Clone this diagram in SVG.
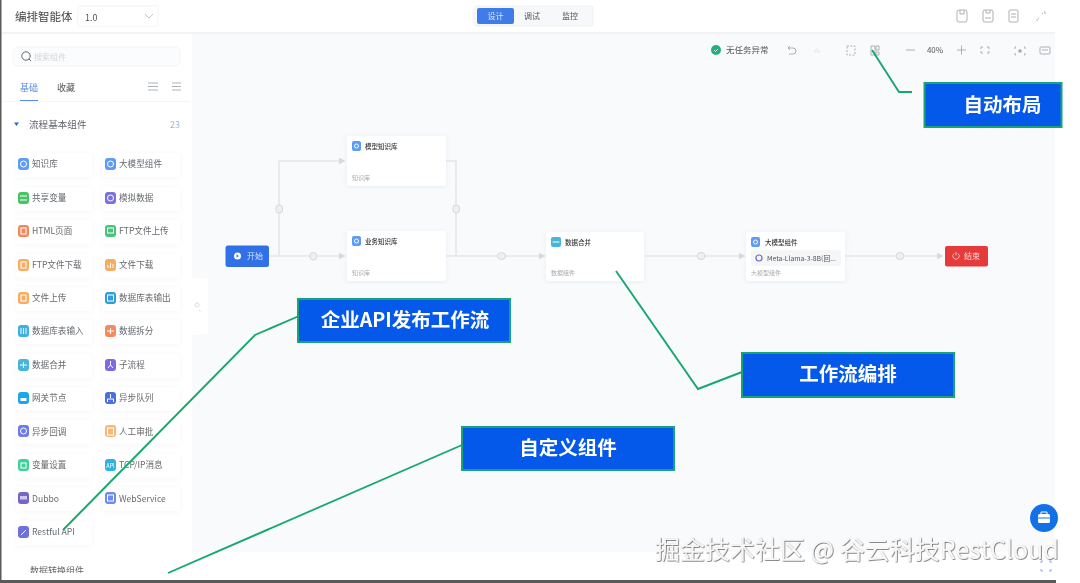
<svg xmlns="http://www.w3.org/2000/svg" width="1080" height="583" viewBox="0 0 1080 583">
<style>
text{font-family:"Noto Sans CJK SC","Noto Sans",sans-serif}
.soft{filter:url(#soft)}
.card{fill:#fff;filter:url(#shadow)}
.item{fill:#fff;filter:url(#shadowS)}
.lbl{font-size:8.600px;fill:#666a6e}
.ic{stroke:#fff;stroke-width:1;fill:none}
.ttl{font-size:6.500px;fill:#333;font-weight:500}
.sub{font-size:6px;fill:#aaa}
.nic{fill:#5c9cf5}
.conn{fill:none;stroke:#e4e7eb;stroke-width:1.600}
.hdl{fill:#eef0f2;stroke:#d4d7db;stroke-width:1}
.tool{fill:none;stroke:#a4a9af;stroke-width:.9}
.toolf{fill:none;stroke:#e6e8ea;stroke-width:.9}
.call{fill:#0458ea;stroke:#17a578;stroke-width:2}
.ctext{font-size:19.500px;font-weight:700;fill:#fff;text-anchor:middle}
.lead{fill:none;stroke:#17a86f;stroke-width:1.900}
</style>
<defs>
<filter id="soft" x="-5%" y="-5%" width="110%" height="110%"><feGaussianBlur stdDeviation="0.45"/></filter>
<filter id="shadow" x="-15%" y="-20%" width="130%" height="140%"><feDropShadow dx="0" dy="1" stdDeviation="2.500" flood-color="#8a94a6" flood-opacity=".13"/></filter>
<filter id="shadowS" x="-15%" y="-30%" width="130%" height="160%"><feDropShadow dx="0" dy="1" stdDeviation="2" flood-color="#8a94a6" flood-opacity=".07"/></filter>
<filter id="wm" x="-5%" y="-20%" width="110%" height="140%"><feDropShadow dx="0.600" dy="0.600" stdDeviation="0.500" flood-color="#333" flood-opacity=".95"/></filter>
<marker id="arr" markerWidth="7" markerHeight="7" refX="6" refY="3.500" orient="auto" markerUnits="userSpaceOnUse"><path d="M0 0L6 3.500L0 7Z" fill="#d6d9dd"/></marker>
<clipPath id="bottomClip"><rect x="0" y="560" width="200" height="13"/></clipPath>
</defs>

<rect width="1080" height="583" fill="#fff"/>
<rect x="192" y="34" width="863" height="518" fill="#f8fafc"/>
<rect x="0" y="580" width="1056" height="3" fill="#5a5a5a"/>
<rect x="0" y="0" width="1.500" height="583" fill="#5a5a5a"/>

<g id="header" class="soft">
<rect x="2" y="32" width="1053" height="2" fill="#f1f3f5"/>
<text x="15" y="21" font-size="11.500" fill="#444">编排智能体</text>
<rect x="78" y="6" width="80" height="20" fill="#fff" stroke="#f3f4f6"/>
<text x="85" y="21" font-size="9" fill="#555">1.0</text>
<path d="M145 14L149 18L153 14" fill="none" stroke="#c4c7cc"/>
<rect x="474" y="6" width="119" height="20" rx="2" fill="#f7f8fa" stroke="#eff1f3"/>
<rect x="477" y="8" width="37" height="16" rx="2" fill="#3f7be8"/>
<text x="495.500" y="19" font-size="8" fill="#dbe7ff" text-anchor="middle">设计</text>
<text x="532" y="19" font-size="8" fill="#555" text-anchor="middle">调试</text>
<text x="570" y="19" font-size="8" fill="#555" text-anchor="middle">监控</text>
<g class="tool">
<rect x="957" y="10" width="10" height="12" rx="2"/><path d="M960 10v4h4v-4"/>
<rect x="983" y="10" width="10" height="12" rx="2"/><path d="M985 18h6M986 10v3h4v-3"/>
<rect x="1009" y="10" width="9" height="12" rx="1"/><path d="M1011 14h5M1011 17h5"/>
<path d="M1037 19v2M1038 19l1-1M1042 14l1-1M1044 12h1v2"/>
</g>
</g>

<g id="toolbar" class="soft">
<circle cx="716" cy="50" r="5" fill="#25ad7d"/><path d="M714 50l1.500 1.500L718 49" fill="none" stroke="#fff" stroke-width=".8"/>
<text x="726" y="53" font-size="8.500" fill="#555">无任务异常</text>
<path class="tool" d="M788 48h5a3 3 0 0 1 0 6h-4M790 46l-2 2l2 2"/>
<path class="toolf" d="M814 52h6M815 52a2 3 0 0 1 4 0"/>
<rect class="tool" x="847" y="46" width="8" height="9" stroke-dasharray="2 1.500"/>
<path class="tool" d="M871 46h4v9h-4zM876 46h3v4h-3zM876 52h3v3h-3z"/>
<path class="tool" d="M906 50h9M957 50h9M961.500 45.500v9"/>
<text x="935" y="53" font-size="8" fill="#555" text-anchor="middle">40%</text>
<path class="tool" d="M982 46v2h-2M988 46v2h2M982 54v-2h-2M988 54v-2h2"/>
<path class="tool" d="M1016 47h-1v2M1024 47h1v2M1016 55h-1v-2M1024 55h1v-2"/><circle cx="1020" cy="51" r="1.800" fill="#a4a9af"/>
<rect class="tool" x="1040" y="47" width="10" height="7" rx="1"/><path class="tool" d="M1042 50h6"/>
</g>

<g id="sidebar" class="soft">
<rect x="13" y="47" width="167" height="19" rx="5" fill="#fbfcfd" stroke="#f3f4f6"/>
<circle cx="26" cy="56" r="4.200" fill="none" stroke="#666"/><path d="M29 59l2 2" stroke="#666"/>
<text x="34" y="60" font-size="8" fill="#d3d6da">搜索组件</text>
<text x="20" y="91" font-size="9" fill="#5a8be6">基础</text>
<text x="57" y="91" font-size="9" fill="#555">收藏</text>
<rect x="20" y="100" width="18" height="1.200" fill="#5a8be6"/>
<path class="tool" d="M148 83h10M148 86.500h10M148 90h10M172 83h9M172 86.500h9M172 90h9"/>
<rect x="2" y="101" width="188" height="1" fill="#f5f6f8"/>
<path d="M14 122.500h5l-2.500 3.500z" fill="#1f6fd1"/>
<text x="29" y="128" font-size="9.600" fill="#5f6368">流程基本组件</text>
<text x="170" y="128" font-size="9" fill="#9db4e8">23</text>
<g clip-path="url(#bottomClip)"><text x="30" y="574" font-size="9" fill="#666">数据转换组件</text></g>
<rect x="190" y="278" width="18" height="57" rx="3" fill="#fff"/>
<path d="M197 307a2 2 0 1 1 .1 0M199 310l1.500 1.500" fill="none" stroke="#d8dbdf"/>
</g>

<g id="components" class="soft">
<g id="c1"><rect class="item" x="16" y="153" width="76" height="24" rx="2"/><rect x="18" y="158" width="11" height="12" rx="3" fill="#5c9cf5"/><circle class="ic" cx="23.500" cy="164" r="3"/><text class="lbl" x="32" y="167">知识库</text></g>
<g id="c2"><rect class="item" x="103" y="153" width="77" height="24" rx="2"/><rect x="105" y="158" width="11" height="12" rx="3" fill="#5c9cf5"/><circle class="ic" cx="110.500" cy="164" r="3"/><text class="lbl" x="119" y="167">大模型组件</text></g>
<g id="c3"><rect class="item" x="16" y="187" width="76" height="24" rx="2"/><rect x="18" y="192" width="11" height="12" rx="3" fill="#46c463"/><path class="ic" d="M20 196h7M20 200h7"/><text class="lbl" x="32" y="201">共享变量</text></g>
<g id="c4"><rect class="item" x="103" y="187" width="77" height="24" rx="2"/><rect x="105" y="192" width="11" height="12" rx="3" fill="#7a72de"/><circle class="ic" cx="110.500" cy="198" r="3"/><text class="lbl" x="119" y="201">模拟数据</text></g>
<g id="c5"><rect class="item" x="16" y="220" width="76" height="24" rx="2"/><rect x="18" y="225" width="11" height="12" rx="3" fill="#ef8a5f"/><rect class="ic" x="21" y="228" width="5" height="6"/><text class="lbl" x="32" y="234">HTML页面</text></g>
<g id="c6"><rect class="item" x="103" y="220" width="77" height="24" rx="2"/><rect x="105" y="225" width="11" height="12" rx="3" fill="#46c47a"/><rect class="ic" x="107.500" y="228" width="6" height="5"/><text class="lbl" x="119" y="234">FTP文件上传</text></g>
<g id="c7"><rect class="item" x="16" y="254" width="76" height="24" rx="2"/><rect x="18" y="259" width="11" height="12" rx="3" fill="#f5ad62"/><rect class="ic" x="21" y="262" width="5" height="6"/><text class="lbl" x="32" y="268">FTP文件下载</text></g>
<g id="c8"><rect class="item" x="103" y="254" width="77" height="24" rx="2"/><rect x="105" y="259" width="11" height="12" rx="3" fill="#f5ad62"/><path class="ic" d="M108 268v-3M110.500 268v-5M113 268v-4"/><text class="lbl" x="119" y="268">文件下载</text></g>
<g id="c9"><rect class="item" x="16" y="287" width="76" height="24" rx="2"/><rect x="18" y="292" width="11" height="12" rx="3" fill="#f5ad62"/><rect class="ic" x="21" y="295" width="5" height="6"/><text class="lbl" x="32" y="301">文件上传</text></g>
<g id="c10"><rect class="item" x="103" y="287" width="77" height="24" rx="2"/><rect x="105" y="292" width="11" height="12" rx="3" fill="#2f9fd8"/><rect class="ic" x="107.500" y="295" width="6" height="6"/><text class="lbl" x="119" y="301">数据库表输出</text></g>
<g id="c11"><rect class="item" x="16" y="320" width="76" height="24" rx="2"/><rect x="18" y="325" width="11" height="12" rx="3" fill="#3fb0dc"/><path class="ic" d="M21 328v6M23.500 328v6M26 328v6"/><text class="lbl" x="32" y="334">数据库表输入</text></g>
<g id="c12"><rect class="item" x="103" y="320" width="77" height="24" rx="2"/><rect x="105" y="325" width="11" height="12" rx="3" fill="#f58a5f"/><path class="ic" d="M107 331h7M110.500 328v6"/><text class="lbl" x="119" y="334">数据拆分</text></g>
<g id="c13"><rect class="item" x="16" y="354" width="76" height="24" rx="2"/><rect x="18" y="359" width="11" height="12" rx="3" fill="#45b5d8"/><path class="ic" d="M20 365h7M23.500 362v6"/><text class="lbl" x="32" y="368">数据合并</text></g>
<g id="c14"><rect class="item" x="103" y="354" width="77" height="24" rx="2"/><rect x="105" y="359" width="11" height="12" rx="3" fill="#7d6be0"/><path class="ic" d="M110.500 361v4M108 368l2.500-3l2.500 3"/><text class="lbl" x="119" y="368">子流程</text></g>
<g id="c15"><rect class="item" x="16" y="387" width="76" height="24" rx="2"/><rect x="18" y="392" width="11" height="12" rx="3" fill="#1fa6ec"/><rect x="20.500" y="398" width="6" height="3" fill="#fff"/><text class="lbl" x="32" y="401">网关节点</text></g>
<g id="c16"><rect class="item" x="103" y="387" width="77" height="24" rx="2"/><rect x="105" y="392" width="11" height="12" rx="3" fill="#4a6fe0"/><path class="ic" d="M110.500 394v4M107.500 402v-3h6v3"/><text class="lbl" x="119" y="401">异步队列</text></g>
<g id="c17"><rect class="item" x="16" y="420" width="76" height="24" rx="2"/><rect x="18" y="425" width="11" height="12" rx="3" fill="#6d7be6"/><circle class="ic" cx="23.500" cy="431" r="3"/><text class="lbl" x="32" y="435">异步回调</text></g>
<g id="c18"><rect class="item" x="103" y="420" width="77" height="24" rx="2"/><rect x="105" y="425" width="11" height="12" rx="3" fill="#f5b87a"/><rect class="ic" x="107.500" y="428" width="6" height="7"/><text class="lbl" x="119" y="435">人工审批</text></g>
<g id="c19"><rect class="item" x="16" y="454" width="76" height="24" rx="2"/><rect x="18" y="459" width="11" height="12" rx="3" fill="#3fd09a"/><rect class="ic" x="21" y="463" width="5" height="5"/><text class="lbl" x="32" y="468">变量设置</text></g>
<g id="c20"><rect class="item" x="103" y="454" width="77" height="24" rx="2"/><rect x="105" y="459" width="11" height="12" rx="3" fill="#2fb1e0"/><text x="110.500" y="468" font-size="5.500" fill="#fff" text-anchor="middle">API</text><text class="lbl" x="119" y="468">TCP/IP消息</text></g>
<g id="c21"><rect class="item" x="16" y="487" width="76" height="24" rx="2"/><rect x="18" y="492" width="11" height="12" rx="3" fill="#7765c9"/><rect x="20" y="496" width="7" height="3.500" fill="#cfc8f0"/><text class="lbl" x="32" y="502">Dubbo</text></g>
<g id="c22"><rect class="item" x="103" y="487" width="77" height="24" rx="2"/><rect x="105" y="492" width="11" height="12" rx="3" fill="#6d8cf0"/><rect class="ic" x="107.500" y="495" width="6" height="6"/><text class="lbl" x="119" y="502">WebService</text></g>
<g id="c23"><rect class="item" x="16" y="521" width="76" height="24" rx="2"/><rect x="18" y="526" width="11" height="12" rx="3" fill="#6e6fdc"/><path class="ic" d="M21 535l5-5"/><text class="lbl" x="32" y="535">Restful API</text></g>
</g>

<g id="connectors" class="soft">
<path class="conn" d="M269 256H345" marker-end="url(#arr)"/>
<path class="conn" d="M279 256V161H345" marker-end="url(#arr)"/>
<path class="conn" d="M446 161H456V256"/>
<path class="conn" d="M446 256H545" marker-end="url(#arr)"/>
<path class="conn" d="M645 256H745" marker-end="url(#arr)"/>
<path class="conn" d="M845 256H943" marker-end="url(#arr)"/>
<rect class="hdl" x="276" y="205" width="6.500" height="8" rx="3"/>
<rect class="hdl" x="310" y="252.500" width="6.500" height="7.500" rx="3"/>
<rect class="hdl" x="453" y="205" width="6.500" height="8" rx="3"/>
<ellipse class="hdl" cx="501.500" cy="256" rx="4" ry="3.500"/>
<ellipse class="hdl" cx="701" cy="256" rx="4" ry="3.500"/>
<ellipse class="hdl" cx="900" cy="256" rx="4" ry="3.500"/>
</g>

<g id="node-start" class="soft"><rect x="225.500" y="245.500" width="43.500" height="21.500" rx="2.500" fill="#3370e8"/><circle cx="237.500" cy="256" r="3.500" fill="#fff"/><path d="M236.500 254.500l2.500 1.500l-2.500 1.500z" fill="#3370e8"/><text x="247" y="259" font-size="8" fill="#cfe0ff">开始</text></g>
<g id="node-kb1" class="soft"><rect class="card" x="347" y="136" width="99" height="50" rx="2"/><rect class="nic" x="352" y="141" width="9" height="10" rx="2"/><circle class="ic" cx="356.500" cy="146" r="2" stroke-width=".7"/><text class="ttl" x="365" y="149">模型知识库</text><text class="sub" x="352" y="180">知识库</text></g>
<g id="node-kb2" class="soft"><rect class="card" x="347" y="231" width="99" height="50" rx="2"/><rect class="nic" x="352" y="236" width="9" height="10" rx="2"/><circle class="ic" cx="356.500" cy="241" r="2" stroke-width=".7"/><text class="ttl" x="365" y="244">业务知识库</text><text class="sub" x="352" y="275">知识库</text></g>
<g id="node-merge" class="soft"><rect class="card" x="546" y="232" width="98" height="49" rx="2"/><rect x="551" y="237" width="10" height="10" rx="2" fill="#45b5d8"/><path class="ic" d="M552.500 242h7" stroke-width=".7"/><text class="ttl" x="565" y="244.500">数据合并</text><text class="sub" x="551" y="275">数据组件</text></g>
<g id="node-llm" class="soft"><rect class="card" x="746" y="232" width="99" height="49" rx="2"/><rect class="nic" x="751" y="237" width="9" height="10" rx="2"/><circle class="ic" cx="755.500" cy="242" r="2" stroke-width=".7"/><text class="ttl" x="765" y="244.500">大模型组件</text><rect x="751" y="250" width="90" height="16" rx="2" fill="#f5f6f8"/><circle cx="759" cy="258" r="3" fill="none" stroke="#6a6fc0" stroke-width="1.200"/><text x="767" y="261" font-size="6.800" fill="#555">Meta-Llama-3-8B(回...</text><text class="sub" x="751" y="275">大模型组件</text></g>
<g id="node-end" class="soft"><rect x="945" y="246" width="43" height="20.500" rx="2" fill="#e63b3b"/><path d="M954 253.500a3.200 3.200 0 1 0 4 0M956 252v3.500" fill="none" stroke="#ffd6d6" stroke-width=".8"/><text x="964" y="259" font-size="8" fill="#ffd6d6">结束</text></g>

<g id="leaders">
<path class="lead" d="M872 50L899 92H912"/>
<path class="lead" d="M299 316L255 335L63 530"/>
<path class="lead" d="M616 271L698 389L742 372"/>
<path class="lead" d="M462 445L168 573"/>
</g>

<g id="call-layout"><rect class="call" x="924.500" y="83" width="137" height="44"/><text class="ctext" x="1002.500" y="112">自动布局</text></g>
<g id="call-api"><rect class="call" x="298" y="299" width="212" height="43"/><text class="ctext" x="405" y="327">企业API发布工作流</text></g>
<g id="call-flow"><rect class="call" x="742" y="353" width="212" height="44"/><text class="ctext" x="848" y="381">工作流编排</text></g>
<g id="call-custom"><rect class="call" x="462" y="427" width="212" height="43"/><text class="ctext" x="568" y="455">自定义组件</text></g>

<g id="fab"><circle cx="1044" cy="518" r="14" fill="#1371e8"/><rect x="1038" y="514" width="12" height="9" rx="1.500" fill="#fff"/><path d="M1041 514v-2h6v2" fill="none" stroke="#fff"/><path d="M1038 518h12" stroke="#1371e8"/></g>
<path id="corner" class="soft" d="M1041 563v-2h2M1049 561h2v2M1041 569v2h2M1049 571h2v-2" fill="none" stroke="#8ea6e8"/>
<text id="watermark" x="655" y="559" font-size="25" fill="#f7f7f7" filter="url(#wm)">掘金技术社区 @ 谷云科技RestCloud</text>
</svg>
